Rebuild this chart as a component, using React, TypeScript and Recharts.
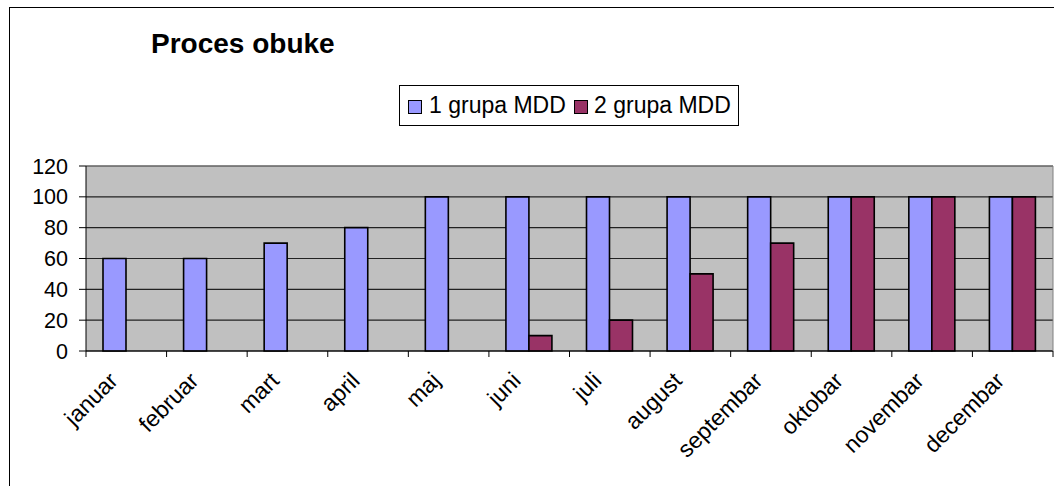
import React from 'react';
import { BarChart, Bar, XAxis, YAxis, CartesianGrid, ReferenceLine, Legend } from 'recharts';

const months = ['januar', 'februar', 'mart', 'april', 'maj', 'juni', 'juli', 'august', 'septembar', 'oktobar', 'novembar', 'decembar'];
const grupa1 = [60, 60, 70, 80, 100, 100, 100, 100, 100, 100, 100, 100];
const grupa2: (number | null)[] = [null, null, null, null, null, 10, 20, 50, 70, 100, 100, 100];
const yTicks = [0, 20, 40, 60, 80, 100, 120];
const seriesNames = ['1 grupa MDD', '2 grupa MDD'];
const title = 'Proces obuke';

const data = months.map((m, i) => ({ month: m, g1: grupa1[i], g2: grupa2[i] }));

const FONT = '"Liberation Sans", Arial, sans-serif';
const W = 1054;
const H = 486;
const PLOT_LEFT = 86;
const PLOT_RIGHT = 1053;
const PLOT_TOP = 166;
const PLOT_BOTTOM = 351;
const COLORS = ['#9999FF', '#993366'];

const band = (PLOT_RIGHT - PLOT_LEFT) / months.length;

const XTick = (props: any) => {
  const { x, y, payload, index } = props;
  const lx = x - band / 2;
  const tx = x - 7;
  const ty = y + 31;
  return (
    <g>
      <line x1={lx} y1={y} x2={lx} y2={y + 6} stroke="#000" />
      {index === months.length - 1 && (
        <line x1={x + band / 2} y1={y} x2={x + band / 2} y2={y + 6} stroke="#000" />
      )}
      <text
        x={tx}
        y={ty}
        textAnchor="end"
        transform={`rotate(-45, ${tx}, ${ty})`}
        fontFamily={FONT}
        fontSize={23}
        fill="#000"
      >
        {payload.value}
      </text>
    </g>
  );
};

const LegendContent = () => (
  <div
    style={{
      position: 'relative',
      width: 340,
      height: 41,
      border: '1px solid #000',
      boxSizing: 'border-box',
      background: '#fff',
      fontFamily: FONT,
      fontSize: 23,
      color: '#000',
    }}
  >
    {seriesNames.map((n, i) => (
      <React.Fragment key={n}>
        <div
          style={{
            position: 'absolute',
            left: (i === 0 ? 9 : 175) - 1,
            top: 14,
            width: 12,
            height: 12,
            background: COLORS[i],
            border: '1px solid #000',
          }}
        />
        <span
          style={{
            position: 'absolute',
            left: (i === 0 ? 30 : 195) - 1,
            top: 7.5,
            lineHeight: '23px',
            whiteSpace: 'nowrap',
          }}
        >
          {n}
        </span>
      </React.Fragment>
    ))}
  </div>
);

export default function App() {
  return (
    <div style={{ position: 'absolute', left: 0, top: 0, width: W, height: H, background: '#fff', overflow: 'hidden' }}>
      <div
        style={{
          position: 'absolute',
          left: 9,
          top: 7,
          width: W - 9,
          height: H - 7,
          borderLeft: '1px solid #000',
          borderTop: '1px solid #000',
          boxSizing: 'border-box',
        }}
      />
      <div
        style={{
          position: 'absolute',
          left: 151,
          top: 30,
          fontFamily: FONT,
          fontSize: 28,
          fontWeight: 'bold',
          lineHeight: '28px',
          whiteSpace: 'nowrap',
          color: '#000',
        }}
      >
        {title}
      </div>
      <div style={{ position: 'absolute', left: 0, top: 0 }}>
        <BarChart
          width={W}
          height={H}
          data={data}
          margin={{ top: PLOT_TOP, right: 0, bottom: 0, left: 0 }}
          barGap={0}
          barSize={23}
        >
          <CartesianGrid vertical={false} stroke="#222" strokeWidth={1.2} fill="#C0C0C0" fillOpacity={1} />
          <XAxis
            dataKey="month"
            interval={0}
            axisLine={{ stroke: '#000' }}
            tickLine={false}
            tickSize={0}
            tickMargin={0}
            height={H - PLOT_BOTTOM}
            tick={<XTick />}
          />
          <YAxis
            domain={[0, 120]}
            ticks={yTicks}
            interval={0}
            width={PLOT_LEFT}
            axisLine={{ stroke: '#000' }}
            tickLine={{ stroke: '#000' }}
            tickSize={7}
            tickMargin={11}
            tick={{ fill: '#000', fontSize: 21.5, fontFamily: FONT }}
          />
          <YAxis
            yAxisId="r"
            orientation="right"
            domain={[0, 120]}
            width={1}
            tick={false}
            tickLine={false}
            axisLine={{ stroke: '#808080' }}
          />
          <ReferenceLine y={120} stroke="#808080" />
          <Legend
            layout="horizontal"
            verticalAlign="middle"
            align="center"
            content={<LegendContent />}
            wrapperStyle={{ position: 'absolute', left: 399, top: 85, width: 340, height: 41 }}
          />
          <Bar dataKey="g1" name={seriesNames[0]} fill={COLORS[0]} stroke="#000" strokeWidth={1.6} isAnimationActive={false} />
          <Bar dataKey="g2" name={seriesNames[1]} fill={COLORS[1]} stroke="#000" strokeWidth={1.6} isAnimationActive={false} />
        </BarChart>
      </div>
    </div>
  );
}
